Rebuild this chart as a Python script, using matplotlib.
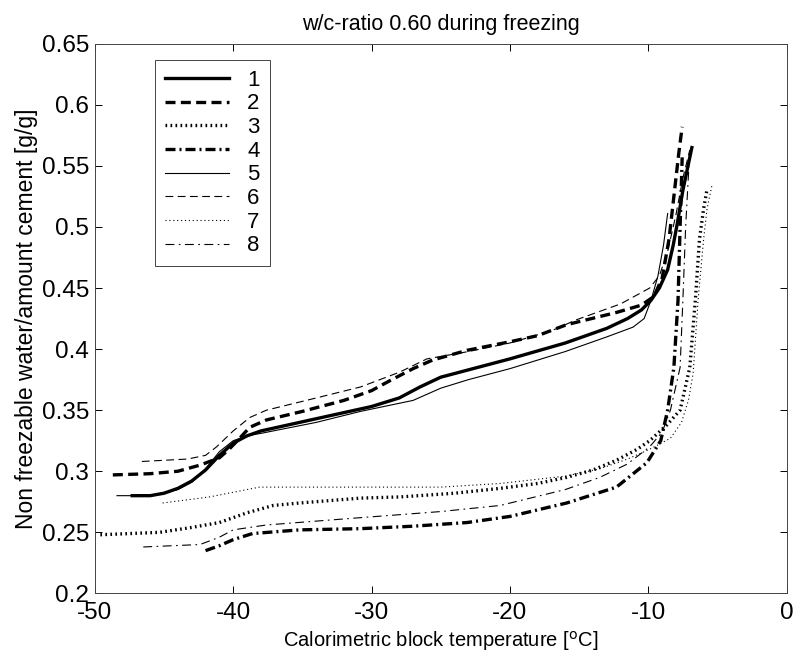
import matplotlib
matplotlib.use("Agg")
import matplotlib.pyplot as plt

plt.rcParams['font.family'] = ['Liberation Sans', 'DejaVu Sans']
plt.rcParams['axes.unicode_minus'] = False

# temperature [C] / non freezable water [g/g]
t1 = [-47.3, -46, -45, -44, -43, -42, -41, -40, -39, -38, -36, -34, -32, -30, -28, -26.5, -25, -22, -20, -16, -13, -11.5, -10.5, -9.8, -9.2, -8.6, -8.2, -7.9, -7.5, -6.85]
v1 = [0.280, 0.280, 0.282, 0.286, 0.292, 0.301, 0.313, 0.323, 0.329, 0.333, 0.338, 0.343, 0.348, 0.353, 0.360, 0.369, 0.377, 0.386, 0.392, 0.405, 0.417, 0.425, 0.432, 0.440, 0.450, 0.465, 0.485, 0.503, 0.530, 0.565]

t2 = [-48.7, -46, -44, -42.4, -41, -40.3, -39.7, -38.8, -37.6, -35, -32, -30, -28.7, -27, -25.6, -23.1, -20, -18, -15.9, -12.3, -10.5, -9.6, -9.0, -8.5, -8.1, -7.8, -7.55]
v2 = [0.297, 0.298, 0.300, 0.305, 0.311, 0.318, 0.325, 0.336, 0.342, 0.349, 0.358, 0.366, 0.374, 0.384, 0.391, 0.399, 0.406, 0.411, 0.420, 0.430, 0.436, 0.443, 0.458, 0.490, 0.530, 0.560, 0.582]

t3 = [-49.6, -45.3, -43, -41, -39, -37.1, -35.2, -30.8, -27.9, -24, -20.7, -18, -15.9, -14, -12.3, -10.8, -9.9, -8.65, -7.7, -7.0, -6.6, -6.3, -6.0, -5.75]
v3 = [0.248, 0.250, 0.254, 0.258, 0.266, 0.272, 0.274, 0.278, 0.279, 0.282, 0.286, 0.290, 0.295, 0.301, 0.309, 0.318, 0.325, 0.338, 0.350, 0.385, 0.440, 0.490, 0.515, 0.531]

t4 = [-42.0, -41, -40, -38.6, -35.2, -30.8, -27, -23.1, -20, -15.9, -12.3, -10.1, -9.1, -8.6, -8.15, -7.85, -7.7, -7.55]
v4 = [0.235, 0.239, 0.244, 0.249, 0.252, 0.253, 0.255, 0.258, 0.263, 0.274, 0.287, 0.307, 0.325, 0.350, 0.385, 0.440, 0.500, 0.557]

t5 = [-48.4, -46, -44, -43, -42, -41, -40, -39, -38, -34, -30.8, -27, -25, -23, -20, -16, -13, -11.1, -10.3, -9.8, -9.3, -8.9, -8.6]
v5 = [0.280, 0.280, 0.285, 0.291, 0.302, 0.316, 0.325, 0.329, 0.331, 0.340, 0.349, 0.358, 0.368, 0.375, 0.384, 0.398, 0.410, 0.418, 0.425, 0.440, 0.460, 0.485, 0.511]

t6 = [-46.6, -43.3, -42, -41.2, -40, -38.8, -37.6, -34, -30.8, -28, -26, -23, -20, -17, -15.2, -12, -9.9, -9.2, -8.6, -8.0, -7.5, -7.0]
v6 = [0.308, 0.310, 0.313, 0.320, 0.333, 0.344, 0.350, 0.360, 0.369, 0.381, 0.392, 0.398, 0.405, 0.415, 0.424, 0.437, 0.450, 0.460, 0.480, 0.510, 0.540, 0.563]

t7 = [-45.1, -41.7, -39, -38.1, -30.8, -25, -20.7, -16, -13.5, -11.5, -9.9, -8.4, -7.6, -7.1, -6.76, -6.4, -6.0, -5.75, -5.4]
v7 = [0.274, 0.279, 0.285, 0.287, 0.287, 0.287, 0.290, 0.296, 0.302, 0.310, 0.318, 0.327, 0.340, 0.358, 0.380, 0.440, 0.490, 0.515, 0.534]

t8 = [-46.5, -42.4, -41, -40, -37.6, -30.8, -25, -20.7, -16, -13.5, -11.5, -9.9, -9.0, -8.4, -7.7, -7.5, -7.3, -7.0]
v8 = [0.238, 0.240, 0.246, 0.252, 0.256, 0.262, 0.267, 0.272, 0.285, 0.295, 0.306, 0.320, 0.332, 0.350, 0.385, 0.440, 0.500, 0.563]

labels = ['1', '2', '3', '4', '5', '6', '7', '8']

fig = plt.figure(figsize=(7.97, 6.63), dpi=100)
ax = fig.add_axes([0.119, 0.105, 0.868, 0.829])

thick = 2.4
thin = 0.8
kw = dict(color='k', solid_joinstyle='round', dash_joinstyle='round')
ax.plot(t1, v1, lw=thick, ls='-', label=labels[0], **kw)
ax.plot(t2, v2, lw=thick, ls=(0, (3, 1.6)), label=labels[1], **kw)
ax.plot(t3, v3, lw=thick, ls=(0, (0.5, 1.0)), label=labels[2], **kw)
ax.plot(t4, v4, lw=thick, ls=(0, (3, 1.2, 0.6, 1.2)), label=labels[3], **kw)
ax.plot(t5, v5, lw=thin, ls='-', label=labels[4], **kw)
ax.plot(t6, v6, lw=thin, ls=(0, (7, 4)), label=labels[5], **kw)
ax.plot(t7, v7, lw=thin, ls=(0, (1, 2.5)), label=labels[6], **kw)
ax.plot(t8, v8, lw=thin, ls=(0, (8, 4, 1.5, 4)), label=labels[7], **kw)

ax.set_xlim(-50, 0)
ax.set_ylim(0.2, 0.65)
ax.set_xticks([-50, -40, -30, -20, -10, 0])
yt = [0.2, 0.25, 0.3, 0.35, 0.4, 0.45, 0.5, 0.55, 0.6, 0.65]
ax.set_yticks(yt)
ax.set_yticklabels([('%g' % y) for y in yt])
ax.tick_params(direction='in', top=True, right=True, labelsize=17.5, length=5, width=0.7)
ax.tick_params(axis='x', pad=6)
ax.tick_params(axis='y', pad=4)
for s in ax.spines.values():
    s.set_linewidth(0.7)
    s.set_color('#444444')

ax.set_xlabel('Calorimetric block temperature [$^{\\rm o}$C]', fontsize=14.5, labelpad=4)
ax.set_ylabel('Non freezable water/amount cement [g/g]', fontsize=16.5, labelpad=3)
ax.set_title('w/c-ratio 0.60 during freezing', fontsize=15.5, pad=10)

leg = ax.legend(loc='upper left', bbox_to_anchor=(0.087, 0.971), borderaxespad=0,
                fontsize=16, handlelength=2.9, handletextpad=0.8, labelspacing=0.12,
                fancybox=False, edgecolor='#444444', framealpha=1, borderpad=0.45)
leg.get_frame().set_linewidth(0.7)

fig.savefig('out.png', dpi=100)
